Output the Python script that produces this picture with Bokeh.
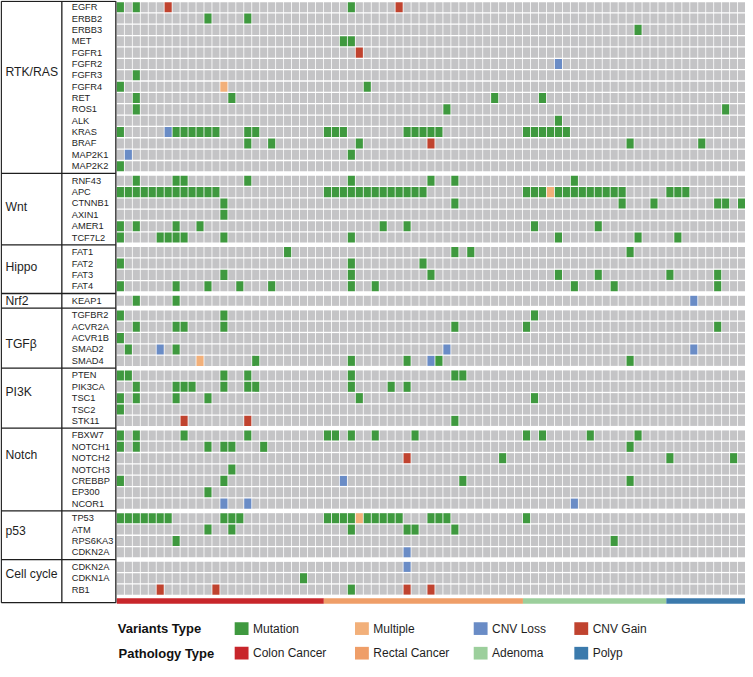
from bokeh.plotting import figure
from bokeh.models import Range1d, ColumnDataSource
from bokeh.core.properties import value
from bokeh.embed import file_html
from bokeh.resources import INLINE

# ---------------- data ----------------
groups = ["RTK/RAS", "Wnt", "Hippo", "Nrf2", "TGFβ", "PI3K", "Notch", "p53", "Cell cycle"]
group_sizes = [15, 6, 4, 1, 5, 5, 7, 4, 3]
genes = ["EGFR", "ERBB2", "ERBB3", "MET", "FGFR1", "FGFR2", "FGFR3", "FGFR4", "RET", "ROS1",
         "ALK", "KRAS", "BRAF", "MAP2K1", "MAP2K2",
         "RNF43", "APC", "CTNNB1", "AXIN1", "AMER1", "TCF7L2",
         "FAT1", "FAT2", "FAT3", "FAT4",
         "KEAP1",
         "TGFBR2", "ACVR2A", "ACVR1B", "SMAD2", "SMAD4",
         "PTEN", "PIK3CA", "TSC1", "TSC2", "STK11",
         "FBXW7", "NOTCH1", "NOTCH2", "NOTCH3", "CREBBP", "EP300", "NCOR1",
         "TP53", "ATM", "RPS6KA3", "CDKN2A",
         "CDKN2A", "CDKN1A", "RB1"]
n_samples = 79
pathology = ["Colon Cancer", "Rectal Cancer", "Adenoma", "Polyp"]
pathology_counts = [26, 25, 18, 10]
variant_types = ["Mutation", "Multiple", "CNV Loss", "CNV Gain"]

# sample (column) indices with a point mutation, one list per gene row
mutation = [
    [0, 2, 29],                                   # EGFR
    [11, 16],                                     # ERBB2
    [65],                                         # ERBB3
    [28, 29],                                     # MET
    [],                                           # FGFR1
    [],                                           # FGFR2
    [2],                                          # FGFR3
    [0, 31],                                      # FGFR4
    [2, 14, 47, 53],                              # RET
    [2, 41, 76],                                  # ROS1
    [55],                                         # ALK
    [0, 7, 8, 9, 10, 11, 12, 16, 17, 26, 27, 28, 36, 37, 38, 39, 40,
     51, 52, 53, 54, 55, 56],                     # KRAS
    [16, 19, 30, 64, 73],                         # BRAF
    [29],                                         # MAP2K1
    [0],                                          # MAP2K2
    [2, 7, 8, 16, 29, 39, 42, 57],                # RNF43
    [0, 1, 2, 3, 4, 5, 6, 7, 8, 9, 10, 11, 12,
     26, 27, 28, 29, 30, 31, 32, 33, 34, 35, 36, 37, 38,
     51, 52, 53, 55, 56, 57, 58, 59, 60, 61, 62, 63, 69, 70, 71],  # APC
    [13, 42, 63, 67, 75, 76, 78],                 # CTNNB1
    [13],                                         # AXIN1
    [0, 2, 7, 10, 33, 36, 52, 60],                # AMER1
    [0, 5, 6, 7, 8, 13, 29, 55, 65, 70],          # TCF7L2
    [21, 42, 44, 64],                             # FAT1
    [0, 29, 38],                                  # FAT2
    [13, 29, 39, 55, 60, 69, 75],                 # FAT3
    [0, 7, 11, 15, 19, 29, 32, 57, 62, 75],       # FAT4
    [2, 7],                                       # KEAP1
    [0, 13, 52],                                  # TGFBR2
    [2, 7, 8, 13, 42, 51, 75],                    # ACVR2A
    [0],                                          # ACVR1B
    [1, 7],                                       # SMAD2
    [17, 29, 36, 40, 64],                         # SMAD4
    [0, 1, 13, 16, 29, 42, 43],                   # PTEN
    [2, 7, 8, 9, 13, 16, 17, 29, 34, 36],         # PIK3CA
    [0, 2, 7, 11, 30, 52],                        # TSC1
    [0],                                          # TSC2
    [42],                                         # STK11
    [0, 2, 8, 16, 26, 27, 29, 32, 37, 51, 53, 59, 65],  # FBXW7
    [0, 2, 11, 13, 14, 18, 64],                   # NOTCH1
    [48, 69, 77],                                 # NOTCH2
    [14],                                         # NOTCH3
    [0, 13, 43, 64],                              # CREBBP
    [11],                                         # EP300
    [],                                           # NCOR1
    [0, 1, 2, 3, 4, 5, 6, 13, 14, 15, 26, 27, 28, 29, 31, 32, 33, 34, 35,
     39, 40, 41, 51],                             # TP53
    [11, 14, 29, 36, 37, 42],                     # ATM
    [7, 62],                                      # RPS6KA3
    [],                                           # CDKN2A (p53)
    [],                                           # CDKN2A (cell cycle)
    [23],                                         # CDKN1A
    [29],                                         # RB1
]
# (gene row, sample) pairs
multiple = [(7, 13), (16, 54), (30, 10), (43, 30)]
cnv_loss = [(5, 55), (11, 6), (13, 1), (25, 72), (29, 5), (29, 41), (29, 72),
            (30, 39), (40, 28), (42, 13), (42, 16), (42, 57), (46, 36), (47, 36)]
cnv_gain = [(0, 6), (0, 35), (4, 30), (12, 39), (35, 8), (35, 16), (38, 36),
            (49, 5), (49, 12), (49, 36), (49, 39)]

# ---------------- styles ----------------
GRAY = "#c4c4c6"
VAR_COLORS = {"Mutation": "#3f993f", "Multiple": "#f2b07a",
              "CNV Loss": "#6a8cc6", "CNV Gain": "#c0432f"}
PATH_COLORS = ["#c8262b", "#ef9e68", "#9ccf9c", "#3b7aac"]
FONT = value("Liberation Sans")
INK = "#1e1e1e"

# ---------------- layout (design grid of 753 x 677, scaled into the figure) ----------------
FIG_W, FIG_H = 745, 661
DES_W, DES_H = 753, 677
X0, PITCH_X = 121.15, 8.05     # design px of sample 0 centre, px per sample
Y0, PITCH_Y = 6.85, 11.63      # design px of first row centre, px per row
GAP = 3.33 / PITCH_Y           # extra space between gene groups (row units)
FS = FIG_H / DES_H             # font scale

def xd(px):
    return (px - X0) / PITCH_X

def yd(py):
    return (py - Y0) / PITCH_Y

def fpx(s):
    return value("%.2fpx" % (s * FS))

p = figure(width=FIG_W, height=FIG_H, output_backend="svg", toolbar_location=None,
           x_range=Range1d(xd(0), xd(DES_W)), y_range=Range1d(yd(DES_H), yd(0)),
           x_axis_location=None, y_axis_location=None, min_border=0,
           outline_line_color=None, background_fill_color="white")
p.grid.visible = False

# row positions
row_group = []
for g, n in enumerate(group_sizes):
    row_group += [g] * n
row_y = [r + row_group[r] * GAP for r in range(len(genes))]

# cells
state = [["" for _ in range(n_samples)] for _ in genes]
for r, cols in enumerate(mutation):
    for c in cols:
        state[r][c] = "Mutation"
for name, pairs in (("Multiple", multiple), ("CNV Loss", cnv_loss), ("CNV Gain", cnv_gain)):
    for r, c in pairs:
        state[r][c] = name

cx, cy, ccol = [], [], []
for r in range(len(genes)):
    for c in range(n_samples):
        cx.append(c)
        cy.append(row_y[r])
        ccol.append(VAR_COLORS.get(state[r][c], GRAY))
p.rect(x="x", y="y", width=0.9, height=0.886, fill_color="color", line_color=None,
       source=ColumnDataSource(dict(x=cx, y=cy, color=ccol)))

# pathology bar
bar_y = yd(615)
starts = [sum(pathology_counts[:i]) for i in range(len(pathology_counts))]
p.hbar(y=bar_y, left=[s - 0.453 for s in starts],
       right=[s + n - 0.453 for s, n in zip(starts, pathology_counts)],
       height=5.6 / PITCH_Y, fill_color=PATH_COLORS, line_color=None)

# left panel: gene labels
p.text(x=[xd(72)] * len(genes), y=row_y, text=genes, text_font=FONT,
       text_font_size=fpx(9.5), text_baseline="middle", text_align="left",
       text_color=INK)

# group labels
label_offsets = [5.67, 2.27, 1.32, 0.04, 2.5, 1.5, 1.7, 1.1, 0.6]
gstart = [sum(group_sizes[:i]) for i in range(len(group_sizes))]
p.text(x=[xd(5)] * len(groups),
       y=[row_y[s] + o for s, o in zip(gstart, label_offsets)],
       text=groups, text_font=FONT, text_font_size=fpx(12.5),
       text_baseline="middle", text_align="left", text_color=INK)

# box lines
top_y, bot_y = yd(0.8), yd(616.7)
sep_y = [(row_y[s - 1] + row_y[s]) / 2 for s in gstart[1:]]
hy = [top_y] + sep_y + [bot_y]
p.segment(x0=xd(0.8), x1=xd(116.6), y0=hy, y1=hy, line_color=INK, line_width=1.3)
p.segment(x0=[xd(0.8), xd(62), xd(116.6)], x1=[xd(0.8), xd(62), xd(116.6)],
          y0=top_y, y1=bot_y, line_color=INK, line_width=1.3)

# legend
LEG_X = [236.7, 358.3, 478.3, 580.0]
LEG_ROWS = [(643.3, 118.5, "Variants  Type", variant_types, [VAR_COLORS[v] for v in variant_types]),
            (668.5, 119.3, "Pathology Type", pathology, PATH_COLORS)]
for py, tx, title, labels, colors in LEG_ROWS:
    p.text(x=[xd(tx)], y=[yd(py)], text=[title], text_font=FONT,
           text_font_size=fpx(13.3), text_font_style="bold",
           text_baseline="middle", text_align="left", text_color="#111111")
    p.rect(x=[xd(lx + 7) for lx in LEG_X], y=[yd(py)] * 4,
           width=14 / PITCH_X, height=13 / PITCH_Y, fill_color=colors, line_color=None)
    p.text(x=[xd(lx + 18.5) for lx in LEG_X], y=[yd(py)] * 4, text=labels,
           text_font=FONT, text_font_size=fpx(12.3),
           text_baseline="middle", text_align="left", text_color=INK)

open("out.html", "w").write(file_html(p, INLINE))
